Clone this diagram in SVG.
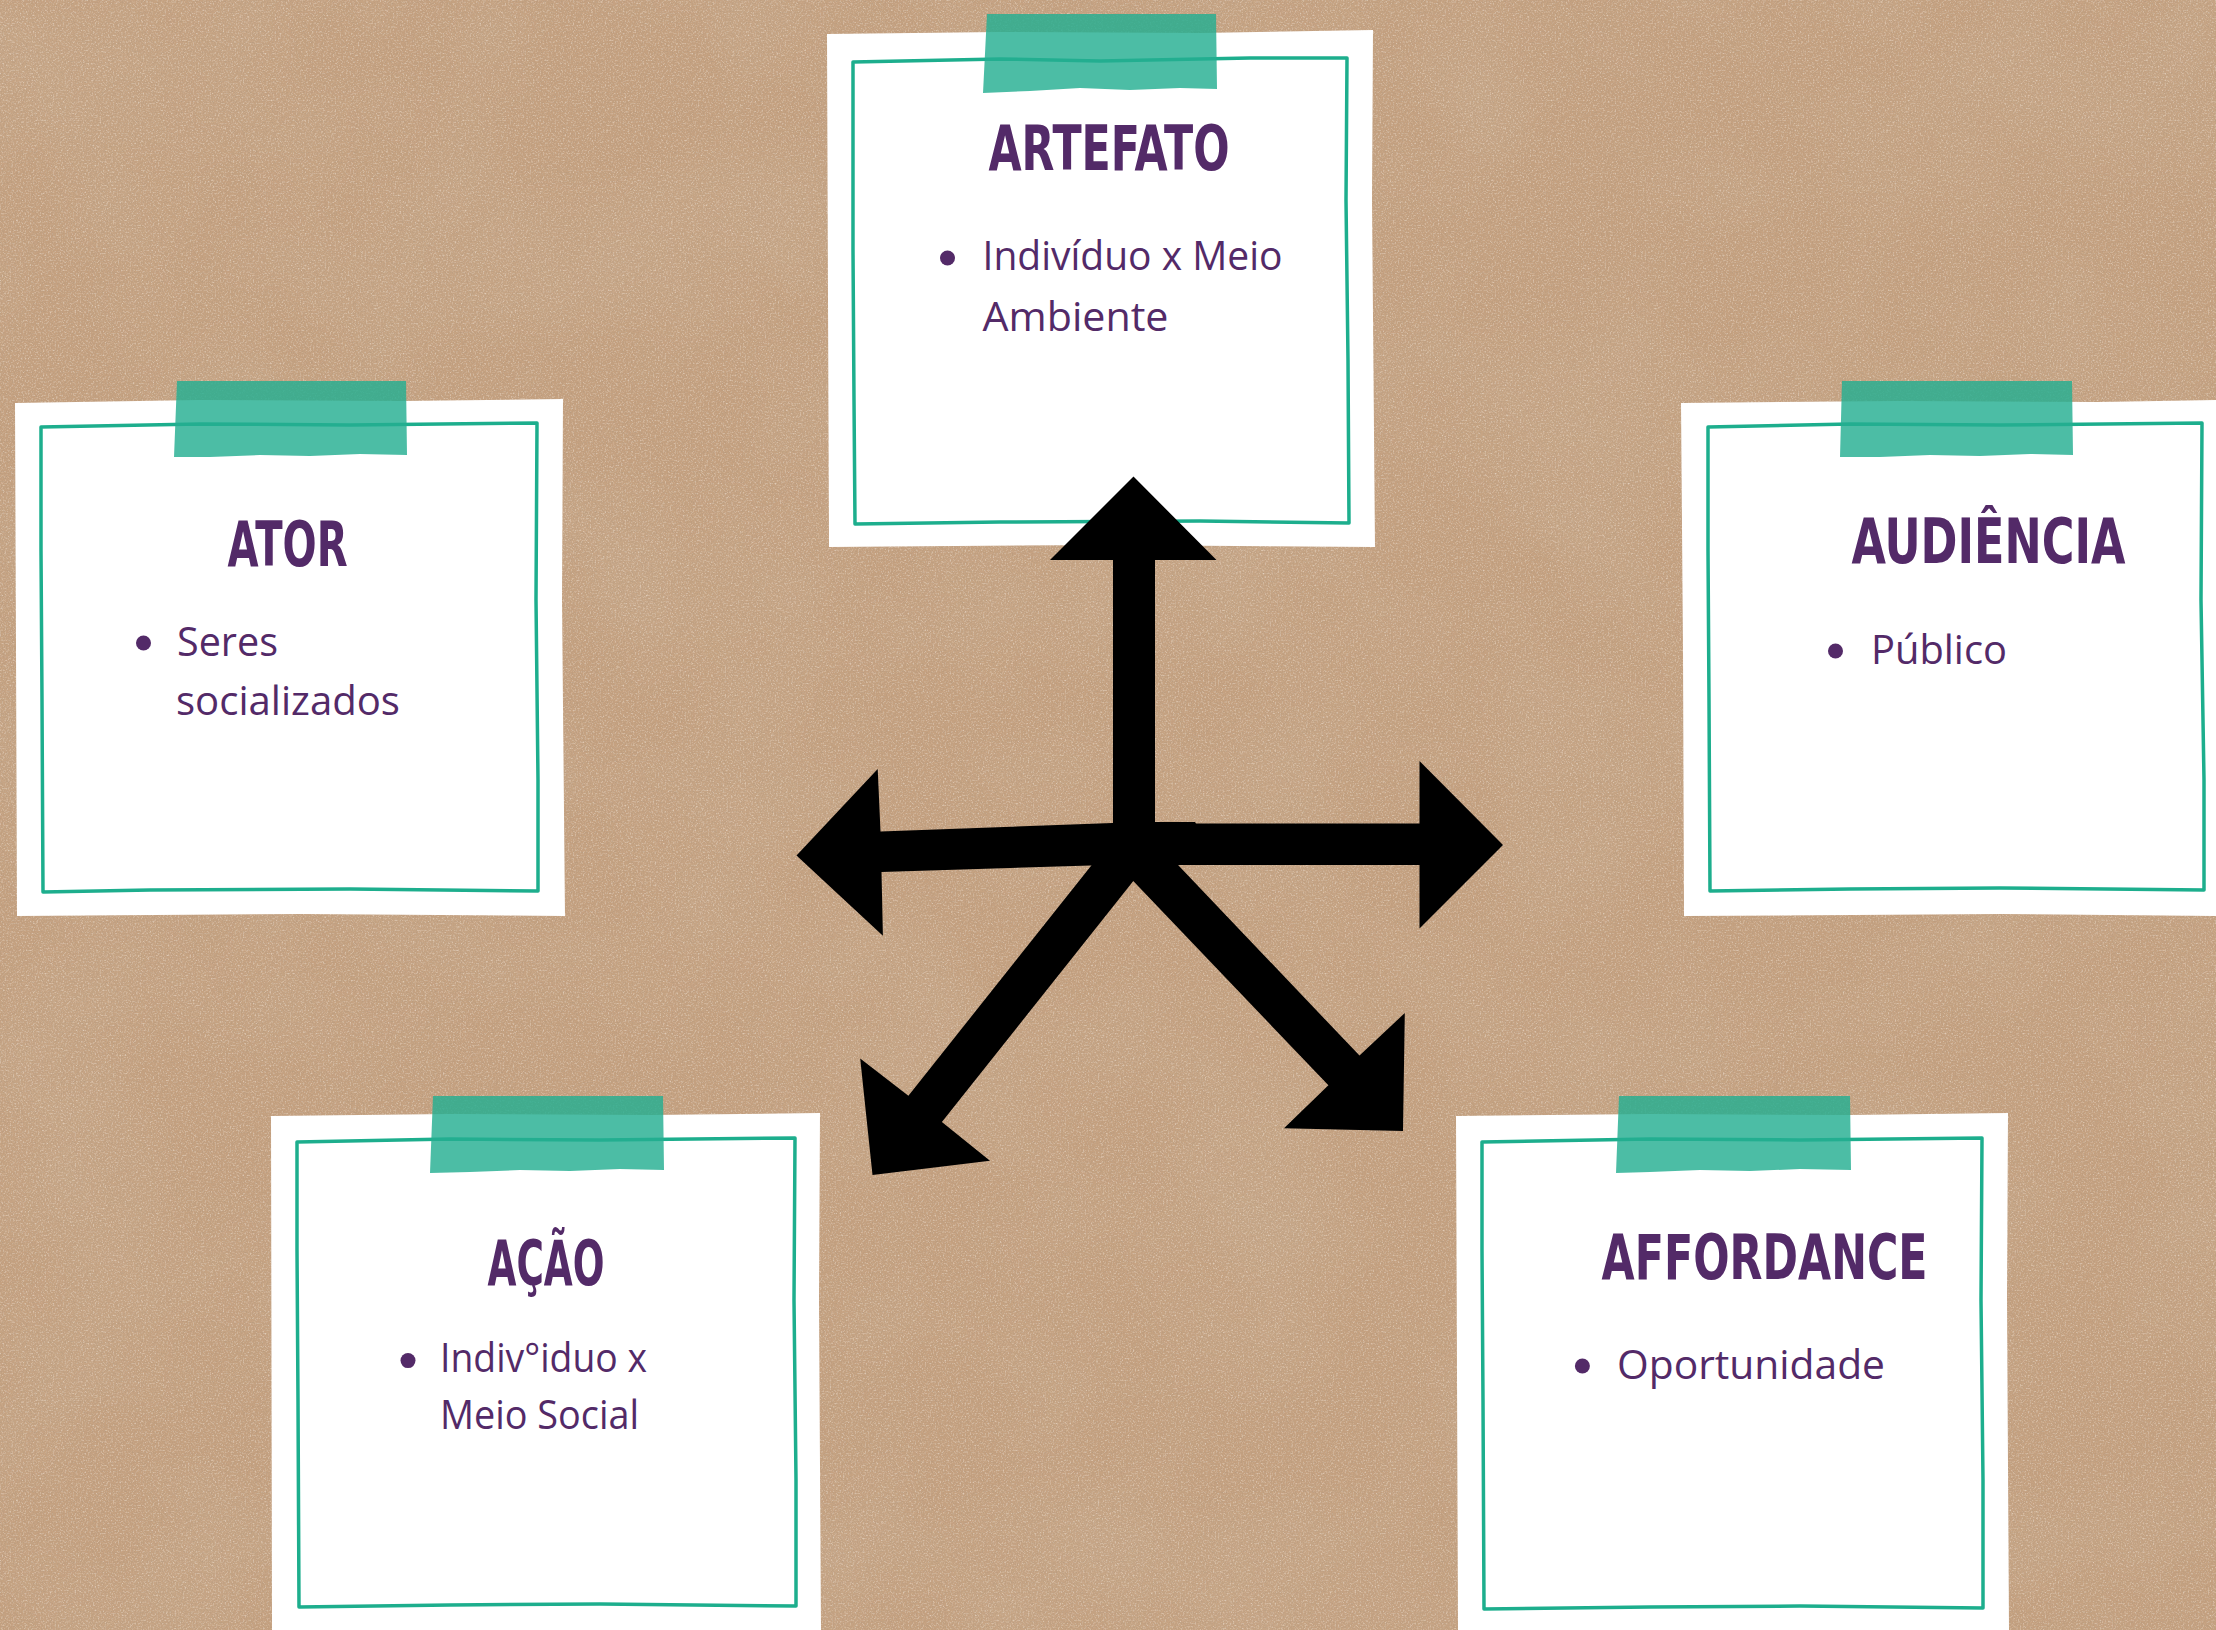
<svg xmlns="http://www.w3.org/2000/svg" width="2216" height="1630" viewBox="0 0 2216 1630">
<defs>
  <filter id="paperDark" x="0" y="0" width="100%" height="100%">
    <feTurbulence type="fractalNoise" baseFrequency="0.8" numOctaves="3" seed="7"/>
    <feColorMatrix type="matrix" values="0 0 0 0 0.42  0 0 0 0 0.3  0 0 0 0 0.2  1.2 0 0 0 -0.52"/>
  </filter>
  <filter id="paperLight" x="0" y="0" width="100%" height="100%">
    <feTurbulence type="fractalNoise" baseFrequency="0.6" numOctaves="2" seed="21"/>
    <feColorMatrix type="matrix" values="0 0 0 0 0.95  0 0 0 0 0.88  0 0 0 0 0.8  0 1.3 0 0 -0.64"/>
  </filter>
  <filter id="paperMottle" x="0" y="0" width="100%" height="100%">
    <feTurbulence type="fractalNoise" baseFrequency="0.006" numOctaves="3" seed="4"/>
    <feColorMatrix type="matrix" values="0 0 0 0 0.6  0 0 0 0 0.44  0 0 0 0 0.3  0 0 0.8 0 -0.3"/>
  </filter>
  <style>
    .paper { fill: #FFFFFF; }
    .frame { fill: none; stroke: #1DAE8D; stroke-width: 3.5; stroke-linejoin: round; }
    .tape { fill: #24AF91; fill-opacity: 0.82; }
    .title { font-family: "DejaVu Sans Condensed", "DejaVu Sans", sans-serif; font-weight: bold; font-size: 62px; fill: #532A68; text-anchor: middle; }
    .body { font-family: "Open Sans", "Noto Sans", sans-serif; font-size: 40px; fill: #532A68; }
    .dot { fill: #532A68; }
    .arrow { fill: #000000; }
  </style>
</defs>

<g id="background">
  <rect x="0" y="0" width="2216" height="1630" fill="#C5A180"/>
  <rect x="0" y="0" width="2216" height="1630" filter="url(#paperMottle)"/>
  <rect x="0" y="0" width="2216" height="1630" filter="url(#paperLight)"/>
  <rect x="0" y="0" width="2216" height="1630" filter="url(#paperDark)"/>
</g>

<g id="node-artefato">
  <polygon class="paper" points="827,34 1000,32 1200,33 1373,30 1372,200 1375,547 1100,545 829,547 828,300"/>
  <path class="frame" d="M853,62 L1000,59 L1100,61 L1250,58 L1347,58 L1346,200 L1348,360 L1349,523 L1200,521 L1000,522 L855,524 L854,400 L853,250 Z"/>
  <polygon class="tape" points="987,14 1216,14 1217,89 1180,88 1130,90 1080,88 1030,91 983,93"/>
  <text class="title" x="1109" y="170" textLength="241" lengthAdjust="spacingAndGlyphs">ARTEFATO</text>
  <circle class="dot" cx="947.5" cy="258" r="7.5"/>
  <text class="body" x="982.5" y="270" textLength="300" lengthAdjust="spacingAndGlyphs">Indivíduo x Meio</text>
  <text class="body" x="982.5" y="331" textLength="186" lengthAdjust="spacingAndGlyphs">Ambiente</text>
</g>

<g id="node-ator">
  <polygon class="paper" points="15,403 200,400 400,401 563,399 562,600 565,916 300,914 17,916 16,650"/>
  <path class="frame" d="M41,427 L200,424 L350,425 L537,423 L536,600 L538,780 L538,891 L350,889 L150,890 L43,892 L42,700 L41,550 Z"/>
  <polygon class="tape" points="177,381 406,381 407,455 360,454 310,456 260,455 210,457 174,457"/>
  <text class="title" x="287.6" y="566" textLength="120" lengthAdjust="spacingAndGlyphs">ATOR</text>
  <circle class="dot" cx="143.5" cy="643" r="7.5"/>
  <text class="body" x="177" y="656" textLength="101" lengthAdjust="spacingAndGlyphs">Seres</text>
  <text class="body" x="176" y="715" textLength="224" lengthAdjust="spacingAndGlyphs">socializados</text>
</g>

<g id="node-audiencia">
  <polygon class="paper" points="1681,403 1900,401 2100,402 2216,400 2216,916 2000,914 1684,916 1683,650"/>
  <path class="frame" d="M1708,427 L1850,424 L2000,425 L2202,423 L2201,600 L2204,780 L2204,890 L2000,888 L1850,889 L1710,891 L1709,700 L1708,550 Z"/>
  <polygon class="tape" points="1842,381 2072,381 2073,455 2030,454 1980,456 1930,455 1880,457 1840,457"/>
  <text class="title" x="1988.5" y="563" textLength="274" lengthAdjust="spacingAndGlyphs">AUDIÊNCIA</text>
  <circle class="dot" cx="1835.5" cy="651" r="7.5"/>
  <text class="body" x="1871" y="664" textLength="136" lengthAdjust="spacingAndGlyphs">Público</text>
</g>

<g id="node-acao">
  <polygon class="paper" points="271,1116 450,1114 650,1115 820,1113 819,1300 821,1630 272,1630"/>
  <path class="frame" d="M297,1142 L450,1139 L600,1140 L795,1138 L794,1300 L796,1480 L796,1606 L600,1604 L450,1605 L299,1607 L298,1400 L297,1250 Z"/>
  <polygon class="tape" points="433,1096 663,1096 664,1170 620,1169 570,1171 520,1170 470,1172 430,1173"/>
  <text class="title" x="546" y="1285" textLength="117" lengthAdjust="spacingAndGlyphs">AÇÃO</text>
  <circle class="dot" cx="408" cy="1360.6" r="7.5"/>
  <text class="body" x="440" y="1372" textLength="207" lengthAdjust="spacingAndGlyphs">Indiv°iduo x</text>
  <text class="body" x="440" y="1429" textLength="199" lengthAdjust="spacingAndGlyphs">Meio Social</text>
</g>

<g id="node-affordance">
  <polygon class="paper" points="1456,1116 1650,1114 1850,1115 2008,1113 2007,1300 2009,1630 1458,1630"/>
  <path class="frame" d="M1482,1142 L1650,1139 L1800,1140 L1982,1138 L1981,1300 L1983,1480 L1983,1608 L1800,1606 L1650,1607 L1484,1609 L1483,1400 L1482,1250 Z"/>
  <polygon class="tape" points="1619,1096 1850,1096 1851,1170 1800,1169 1750,1171 1700,1170 1650,1172 1616,1173"/>
  <text class="title" x="1764.6" y="1279" textLength="326" lengthAdjust="spacingAndGlyphs">AFFORDANCE</text>
  <circle class="dot" cx="1582.4" cy="1366" r="7.5"/>
  <text class="body" x="1617" y="1379" textLength="268" lengthAdjust="spacingAndGlyphs">Oportunidade</text>
</g>

<g id="connectors">
  <polygon class="arrow" points="1113,862 1113,560 1050,560 1133.5,476.5 1216.5,560 1155,560 1155,862"/>
  <polygon class="arrow" points="1133,822 1195,822 1196,823.5 1419.5,823.5 1419.5,761 1503,845 1419.5,928.6 1419.5,865 1133,865"/>
  <polygon class="arrow" points="1140,822 880.5,831.4 877.7,769 796.5,855.5 882.9,935.7 881.5,872 1140,864"/>
  <polygon class="arrow" points="1110,842 908.4,1095.7 860.2,1058.4 872.5,1175 990,1160.8 941.9,1122 1150,860"/>
  <polygon class="arrow" points="1160,846 1359.5,1055.6 1404.8,1013 1403,1131 1284,1128.2 1328.4,1085.3 1117,864"/>
</g>
</svg>
